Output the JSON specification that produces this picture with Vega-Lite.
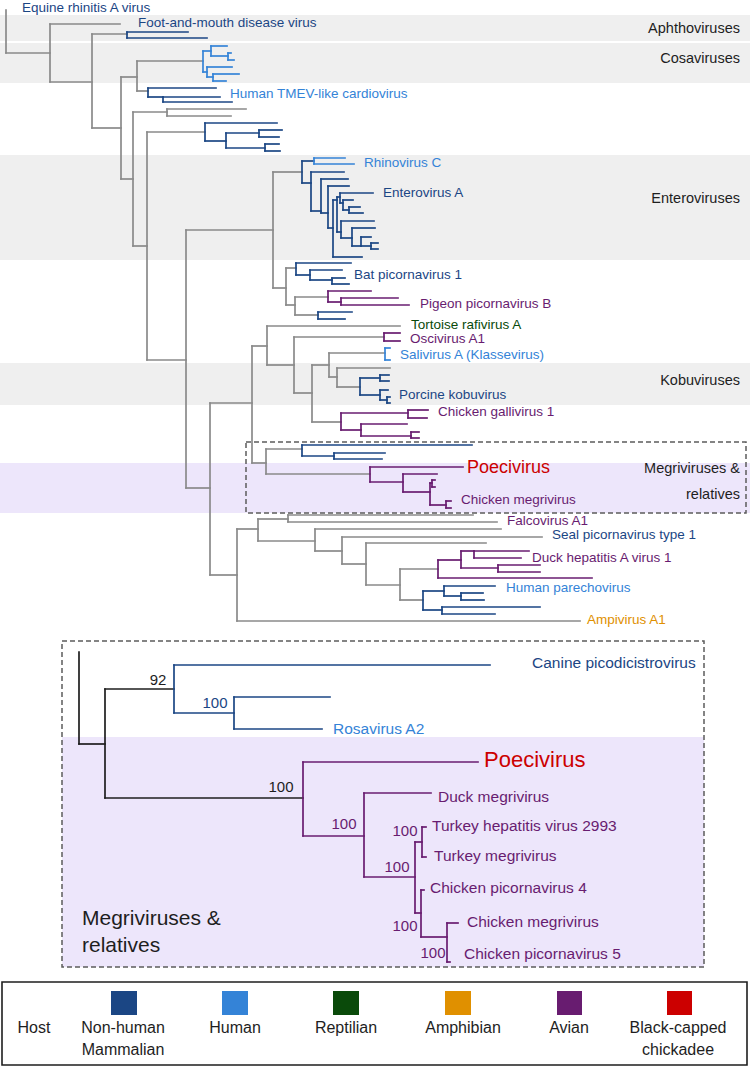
{
"$schema": "https://vega.github.io/schema/vega-lite/v6.json",
"width": 750, "height": 1067, "padding": 0,
"autosize": {"type": "none"},
"background": "white",
"config": {"view": {"stroke": null}},
"datasets": {
"bands": [
{"x":0,"x2":750,"y":15,"y2":41,"h":"X"},
{"x":0,"x2":750,"y":43,"y2":83,"h":"X"},
{"x":0,"x2":750,"y":155,"y2":260,"h":"X"},
{"x":0,"x2":750,"y":363,"y2":405,"h":"X"},
{"x":0,"x2":750,"y":463,"y2":513,"h":"L"},
{"x":62,"x2":704,"y":737,"y2":967,"h":"L"}
],
"boxes": [
{"x":246,"x2":746,"y":442,"y2":513,"h":"D"},
{"x":62,"x2":704,"y":641,"y2":967,"h":"D"}
],
"frame": [
{"x":2,"x2":747,"y":982,"y2":1065,"h":"K"}
],
"keys": [
{"x":111,"x2":137,"y":991,"y2":1015,"h":"M"},
{"x":222,"x2":248,"y":991,"y2":1015,"h":"H"},
{"x":333,"x2":359,"y":991,"y2":1015,"h":"R"},
{"x":445,"x2":471,"y":991,"y2":1015,"h":"A"},
{"x":557,"x2":582,"y":991,"y2":1015,"h":"B"},
{"x":667,"x2":692,"y":991,"y2":1015,"h":"C"}
],
"segs": [
{"x":6,"y":10,"x2":6,"y2":53,"h":"G"},
{"x":6,"y":53,"x2":50,"y2":53,"h":"G"},
{"x":50,"y":24,"x2":50,"y2":82,"h":"G"},
{"x":50,"y":24,"x2":120,"y2":24,"h":"G"},
{"x":50,"y":82,"x2":92,"y2":82,"h":"G"},
{"x":92,"y":34,"x2":92,"y2":128,"h":"G"},
{"x":92,"y":34,"x2":127,"y2":34,"h":"G"},
{"x":127,"y":32,"x2":127,"y2":38,"h":"M"},
{"x":127,"y":32,"x2":188,"y2":32,"h":"M"},
{"x":127,"y":38,"x2":207,"y2":38,"h":"M"},
{"x":92,"y":128,"x2":121,"y2":128,"h":"G"},
{"x":121,"y":77,"x2":121,"y2":179,"h":"G"},
{"x":121,"y":77,"x2":137,"y2":77,"h":"G"},
{"x":121,"y":179,"x2":133,"y2":179,"h":"G"},
{"x":137,"y":61,"x2":137,"y2":91,"h":"G"},
{"x":137,"y":61,"x2":203,"y2":61,"h":"G"},
{"x":203,"y":51,"x2":203,"y2":72,"h":"H"},
{"x":203,"y":51,"x2":211,"y2":51,"h":"H"},
{"x":211,"y":46,"x2":211,"y2":56,"h":"H"},
{"x":211,"y":46,"x2":227,"y2":46,"h":"H"},
{"x":211,"y":56,"x2":228,"y2":56,"h":"H"},
{"x":228,"y":53,"x2":228,"y2":60,"h":"H"},
{"x":228,"y":53,"x2":231,"y2":53,"h":"H"},
{"x":228,"y":60,"x2":234,"y2":60,"h":"H"},
{"x":203,"y":72,"x2":207,"y2":72,"h":"H"},
{"x":207,"y":67,"x2":207,"y2":77,"h":"H"},
{"x":207,"y":67,"x2":232,"y2":67,"h":"H"},
{"x":207,"y":77,"x2":213,"y2":77,"h":"H"},
{"x":213,"y":74,"x2":213,"y2":81,"h":"H"},
{"x":213,"y":74,"x2":239,"y2":74,"h":"H"},
{"x":213,"y":81,"x2":226,"y2":81,"h":"H"},
{"x":137,"y":91,"x2":148,"y2":91,"h":"G"},
{"x":148,"y":88,"x2":148,"y2":97,"h":"M"},
{"x":148,"y":88,"x2":216,"y2":88,"h":"M"},
{"x":148,"y":97,"x2":163,"y2":97,"h":"M"},
{"x":163,"y":97,"x2":163,"y2":102,"h":"M"},
{"x":163,"y":97,"x2":220,"y2":97,"h":"M"},
{"x":163,"y":102,"x2":232,"y2":102,"h":"M"},
{"x":133,"y":112,"x2":133,"y2":246,"h":"G"},
{"x":133,"y":112,"x2":167,"y2":112,"h":"G"},
{"x":167,"y":109,"x2":167,"y2":116,"h":"G"},
{"x":167,"y":109,"x2":246,"y2":109,"h":"G"},
{"x":167,"y":116,"x2":231,"y2":116,"h":"G"},
{"x":133,"y":246,"x2":147,"y2":246,"h":"G"},
{"x":147,"y":132,"x2":147,"y2":360,"h":"G"},
{"x":147,"y":132,"x2":205,"y2":132,"h":"G"},
{"x":205,"y":123,"x2":205,"y2":141,"h":"M"},
{"x":205,"y":123,"x2":277,"y2":123,"h":"M"},
{"x":205,"y":141,"x2":226,"y2":141,"h":"M"},
{"x":226,"y":133,"x2":226,"y2":148,"h":"M"},
{"x":226,"y":133,"x2":259,"y2":133,"h":"M"},
{"x":259,"y":130,"x2":259,"y2":137,"h":"M"},
{"x":259,"y":130,"x2":282,"y2":130,"h":"M"},
{"x":259,"y":137,"x2":279,"y2":137,"h":"M"},
{"x":226,"y":148,"x2":265,"y2":148,"h":"M"},
{"x":265,"y":144,"x2":265,"y2":151,"h":"M"},
{"x":265,"y":144,"x2":279,"y2":144,"h":"M"},
{"x":265,"y":151,"x2":280,"y2":151,"h":"M"},
{"x":147,"y":360,"x2":186,"y2":360,"h":"G"},
{"x":186,"y":230,"x2":186,"y2":488,"h":"G"},
{"x":186,"y":230,"x2":273,"y2":230,"h":"G"},
{"x":273,"y":172,"x2":273,"y2":288,"h":"G"},
{"x":273,"y":172,"x2":302,"y2":172,"h":"G"},
{"x":302,"y":161,"x2":302,"y2":183,"h":"M"},
{"x":302,"y":161,"x2":314,"y2":161,"h":"M"},
{"x":314,"y":158,"x2":314,"y2":164,"h":"H"},
{"x":314,"y":158,"x2":345,"y2":158,"h":"H"},
{"x":314,"y":164,"x2":354,"y2":164,"h":"H"},
{"x":302,"y":183,"x2":311,"y2":183,"h":"M"},
{"x":311,"y":172,"x2":311,"y2":211,"h":"M"},
{"x":311,"y":172,"x2":344,"y2":172,"h":"M"},
{"x":311,"y":211,"x2":321,"y2":211,"h":"M"},
{"x":321,"y":179,"x2":321,"y2":213,"h":"M"},
{"x":321,"y":179,"x2":348,"y2":179,"h":"M"},
{"x":321,"y":213,"x2":328,"y2":213,"h":"M"},
{"x":328,"y":186,"x2":328,"y2":228,"h":"M"},
{"x":328,"y":186,"x2":349,"y2":186,"h":"M"},
{"x":328,"y":228,"x2":333,"y2":228,"h":"M"},
{"x":333,"y":200,"x2":333,"y2":257,"h":"M"},
{"x":333,"y":257,"x2":362,"y2":257,"h":"M"},
{"x":333,"y":200,"x2":337,"y2":200,"h":"M"},
{"x":337,"y":197,"x2":337,"y2":232,"h":"M"},
{"x":337,"y":197,"x2":340,"y2":197,"h":"M"},
{"x":340,"y":193,"x2":340,"y2":203,"h":"M"},
{"x":340,"y":193,"x2":373,"y2":193,"h":"M"},
{"x":340,"y":203,"x2":343,"y2":203,"h":"M"},
{"x":343,"y":200,"x2":343,"y2":210,"h":"M"},
{"x":343,"y":200,"x2":353,"y2":200,"h":"M"},
{"x":343,"y":210,"x2":349,"y2":210,"h":"M"},
{"x":349,"y":207,"x2":349,"y2":213,"h":"M"},
{"x":349,"y":207,"x2":360,"y2":207,"h":"M"},
{"x":349,"y":213,"x2":363,"y2":213,"h":"M"},
{"x":337,"y":232,"x2":341,"y2":232,"h":"M"},
{"x":341,"y":221,"x2":341,"y2":238,"h":"M"},
{"x":341,"y":221,"x2":374,"y2":221,"h":"M"},
{"x":341,"y":238,"x2":352,"y2":238,"h":"M"},
{"x":352,"y":228,"x2":352,"y2":246,"h":"M"},
{"x":352,"y":228,"x2":375,"y2":228,"h":"M"},
{"x":352,"y":246,"x2":361,"y2":246,"h":"M"},
{"x":361,"y":237,"x2":361,"y2":246,"h":"M"},
{"x":361,"y":237,"x2":371,"y2":237,"h":"M"},
{"x":361,"y":246,"x2":371,"y2":246,"h":"M"},
{"x":371,"y":243,"x2":371,"y2":249,"h":"M"},
{"x":371,"y":243,"x2":378,"y2":243,"h":"M"},
{"x":371,"y":249,"x2":378,"y2":249,"h":"M"},
{"x":273,"y":288,"x2":286,"y2":288,"h":"G"},
{"x":286,"y":268,"x2":286,"y2":305,"h":"G"},
{"x":286,"y":268,"x2":296,"y2":268,"h":"G"},
{"x":296,"y":263,"x2":296,"y2":275,"h":"M"},
{"x":296,"y":263,"x2":351,"y2":263,"h":"M"},
{"x":296,"y":275,"x2":310,"y2":275,"h":"M"},
{"x":310,"y":270,"x2":310,"y2":280,"h":"M"},
{"x":310,"y":270,"x2":342,"y2":270,"h":"M"},
{"x":310,"y":280,"x2":332,"y2":280,"h":"M"},
{"x":332,"y":278,"x2":332,"y2":284,"h":"M"},
{"x":332,"y":278,"x2":345,"y2":278,"h":"M"},
{"x":332,"y":284,"x2":349,"y2":284,"h":"M"},
{"x":286,"y":305,"x2":295,"y2":305,"h":"G"},
{"x":295,"y":297,"x2":295,"y2":315,"h":"G"},
{"x":295,"y":297,"x2":328,"y2":297,"h":"G"},
{"x":328,"y":291,"x2":328,"y2":302,"h":"B"},
{"x":328,"y":291,"x2":371,"y2":291,"h":"B"},
{"x":328,"y":302,"x2":341,"y2":302,"h":"B"},
{"x":341,"y":298,"x2":341,"y2":305,"h":"B"},
{"x":341,"y":298,"x2":398,"y2":298,"h":"B"},
{"x":341,"y":305,"x2":409,"y2":305,"h":"B"},
{"x":295,"y":315,"x2":318,"y2":315,"h":"G"},
{"x":318,"y":312,"x2":318,"y2":319,"h":"M"},
{"x":318,"y":312,"x2":352,"y2":312,"h":"M"},
{"x":318,"y":319,"x2":345,"y2":319,"h":"M"},
{"x":186,"y":488,"x2":210,"y2":488,"h":"G"},
{"x":210,"y":403,"x2":210,"y2":575,"h":"G"},
{"x":210,"y":403,"x2":252,"y2":403,"h":"G"},
{"x":252,"y":346,"x2":252,"y2":463,"h":"G"},
{"x":252,"y":346,"x2":267,"y2":346,"h":"G"},
{"x":267,"y":326,"x2":267,"y2":365,"h":"G"},
{"x":267,"y":326,"x2":400,"y2":326,"h":"G"},
{"x":267,"y":365,"x2":294,"y2":365,"h":"G"},
{"x":294,"y":337,"x2":294,"y2":393,"h":"G"},
{"x":294,"y":337,"x2":384,"y2":337,"h":"G"},
{"x":384,"y":333,"x2":384,"y2":341,"h":"B"},
{"x":384,"y":333,"x2":400,"y2":333,"h":"B"},
{"x":384,"y":341,"x2":400,"y2":341,"h":"B"},
{"x":294,"y":393,"x2":312,"y2":393,"h":"G"},
{"x":312,"y":365,"x2":312,"y2":422,"h":"G"},
{"x":312,"y":365,"x2":329,"y2":365,"h":"G"},
{"x":329,"y":353,"x2":329,"y2":377,"h":"G"},
{"x":329,"y":353,"x2":385,"y2":353,"h":"G"},
{"x":385,"y":348,"x2":385,"y2":360,"h":"H"},
{"x":385,"y":348,"x2":390,"y2":348,"h":"H"},
{"x":385,"y":360,"x2":390,"y2":360,"h":"H"},
{"x":329,"y":377,"x2":337,"y2":377,"h":"G"},
{"x":337,"y":368,"x2":337,"y2":387,"h":"G"},
{"x":337,"y":368,"x2":390,"y2":368,"h":"G"},
{"x":337,"y":387,"x2":360,"y2":387,"h":"G"},
{"x":360,"y":378,"x2":360,"y2":395,"h":"M"},
{"x":360,"y":378,"x2":380,"y2":378,"h":"M"},
{"x":380,"y":375,"x2":380,"y2":381,"h":"M"},
{"x":380,"y":375,"x2":389,"y2":375,"h":"M"},
{"x":380,"y":381,"x2":389,"y2":381,"h":"M"},
{"x":360,"y":395,"x2":380,"y2":395,"h":"M"},
{"x":380,"y":390,"x2":380,"y2":400,"h":"M"},
{"x":380,"y":390,"x2":388,"y2":390,"h":"M"},
{"x":380,"y":400,"x2":387,"y2":400,"h":"M"},
{"x":387,"y":397,"x2":387,"y2":403,"h":"M"},
{"x":387,"y":397,"x2":390,"y2":397,"h":"M"},
{"x":387,"y":403,"x2":390,"y2":403,"h":"M"},
{"x":312,"y":422,"x2":341,"y2":422,"h":"G"},
{"x":341,"y":413,"x2":341,"y2":430,"h":"B"},
{"x":341,"y":413,"x2":408,"y2":413,"h":"B"},
{"x":408,"y":410,"x2":408,"y2":418,"h":"B"},
{"x":408,"y":410,"x2":428,"y2":410,"h":"B"},
{"x":408,"y":418,"x2":427,"y2":418,"h":"B"},
{"x":341,"y":430,"x2":361,"y2":430,"h":"B"},
{"x":361,"y":424,"x2":361,"y2":436,"h":"B"},
{"x":361,"y":424,"x2":407,"y2":424,"h":"B"},
{"x":361,"y":436,"x2":411,"y2":436,"h":"B"},
{"x":411,"y":432,"x2":411,"y2":438,"h":"B"},
{"x":411,"y":432,"x2":419,"y2":432,"h":"B"},
{"x":411,"y":438,"x2":419,"y2":438,"h":"B"},
{"x":252,"y":463,"x2":266,"y2":463,"h":"G"},
{"x":266,"y":449,"x2":266,"y2":474,"h":"G"},
{"x":266,"y":449,"x2":302,"y2":449,"h":"G"},
{"x":302,"y":445,"x2":302,"y2":456,"h":"M"},
{"x":302,"y":445,"x2":472,"y2":445,"h":"M"},
{"x":302,"y":456,"x2":334,"y2":456,"h":"M"},
{"x":334,"y":453,"x2":334,"y2":459,"h":"M"},
{"x":334,"y":453,"x2":385,"y2":453,"h":"M"},
{"x":334,"y":459,"x2":382,"y2":459,"h":"M"},
{"x":266,"y":474,"x2":370,"y2":474,"h":"G"},
{"x":370,"y":467,"x2":370,"y2":482,"h":"B"},
{"x":370,"y":467,"x2":463,"y2":467,"h":"B"},
{"x":370,"y":482,"x2":403,"y2":482,"h":"B"},
{"x":403,"y":474,"x2":403,"y2":492,"h":"B"},
{"x":403,"y":474,"x2":437,"y2":474,"h":"B"},
{"x":403,"y":492,"x2":430,"y2":492,"h":"B"},
{"x":430,"y":483,"x2":430,"y2":505,"h":"B"},
{"x":430,"y":483,"x2":432,"y2":483,"h":"B"},
{"x":432,"y":480,"x2":432,"y2":487,"h":"B"},
{"x":432,"y":480,"x2":435,"y2":480,"h":"B"},
{"x":432,"y":487,"x2":435,"y2":487,"h":"B"},
{"x":430,"y":505,"x2":446,"y2":505,"h":"B"},
{"x":446,"y":501,"x2":446,"y2":508,"h":"B"},
{"x":446,"y":501,"x2":451,"y2":501,"h":"B"},
{"x":446,"y":508,"x2":451,"y2":508,"h":"B"},
{"x":210,"y":575,"x2":237,"y2":575,"h":"G"},
{"x":237,"y":529,"x2":237,"y2":621,"h":"G"},
{"x":237,"y":529,"x2":258,"y2":529,"h":"G"},
{"x":237,"y":621,"x2":580,"y2":621,"h":"G"},
{"x":258,"y":519,"x2":258,"y2":541,"h":"G"},
{"x":258,"y":519,"x2":288,"y2":519,"h":"G"},
{"x":288,"y":515,"x2":288,"y2":522,"h":"G"},
{"x":288,"y":515,"x2":473,"y2":515,"h":"G"},
{"x":288,"y":522,"x2":497,"y2":522,"h":"G"},
{"x":258,"y":541,"x2":315,"y2":541,"h":"G"},
{"x":315,"y":529,"x2":315,"y2":551,"h":"G"},
{"x":315,"y":529,"x2":501,"y2":529,"h":"G"},
{"x":315,"y":551,"x2":342,"y2":551,"h":"G"},
{"x":342,"y":537,"x2":342,"y2":564,"h":"G"},
{"x":342,"y":537,"x2":542,"y2":537,"h":"G"},
{"x":342,"y":564,"x2":366,"y2":564,"h":"G"},
{"x":366,"y":543,"x2":366,"y2":585,"h":"G"},
{"x":366,"y":543,"x2":486,"y2":543,"h":"G"},
{"x":366,"y":585,"x2":400,"y2":585,"h":"G"},
{"x":400,"y":569,"x2":400,"y2":600,"h":"G"},
{"x":400,"y":569,"x2":438,"y2":569,"h":"G"},
{"x":438,"y":560,"x2":438,"y2":578,"h":"B"},
{"x":438,"y":560,"x2":461,"y2":560,"h":"B"},
{"x":461,"y":551,"x2":461,"y2":568,"h":"B"},
{"x":461,"y":551,"x2":474,"y2":551,"h":"B"},
{"x":474,"y":551,"x2":474,"y2":558,"h":"B"},
{"x":474,"y":551,"x2":529,"y2":551,"h":"B"},
{"x":474,"y":558,"x2":521,"y2":558,"h":"B"},
{"x":461,"y":568,"x2":498,"y2":568,"h":"B"},
{"x":498,"y":565,"x2":498,"y2":572,"h":"B"},
{"x":498,"y":565,"x2":540,"y2":565,"h":"B"},
{"x":498,"y":572,"x2":540,"y2":572,"h":"B"},
{"x":438,"y":578,"x2":592,"y2":578,"h":"B"},
{"x":400,"y":600,"x2":423,"y2":600,"h":"G"},
{"x":423,"y":591,"x2":423,"y2":610,"h":"M"},
{"x":423,"y":591,"x2":444,"y2":591,"h":"M"},
{"x":444,"y":586,"x2":444,"y2":596,"h":"M"},
{"x":444,"y":586,"x2":495,"y2":586,"h":"M"},
{"x":444,"y":596,"x2":461,"y2":596,"h":"M"},
{"x":461,"y":593,"x2":461,"y2":600,"h":"M"},
{"x":461,"y":593,"x2":483,"y2":593,"h":"M"},
{"x":461,"y":600,"x2":484,"y2":600,"h":"M"},
{"x":423,"y":610,"x2":442,"y2":610,"h":"M"},
{"x":442,"y":607,"x2":442,"y2":614,"h":"M"},
{"x":442,"y":607,"x2":540,"y2":607,"h":"M"},
{"x":442,"y":614,"x2":495,"y2":614,"h":"M"},
{"x":79,"y":652,"x2":79,"y2":744,"h":"K"},
{"x":79,"y":744,"x2":105,"y2":744,"h":"K"},
{"x":105,"y":689,"x2":105,"y2":798,"h":"K"},
{"x":105,"y":689,"x2":174,"y2":689,"h":"K"},
{"x":174,"y":665,"x2":174,"y2":713,"h":"M"},
{"x":174,"y":665,"x2":490,"y2":665,"h":"M"},
{"x":174,"y":713,"x2":234,"y2":713,"h":"M"},
{"x":234,"y":697,"x2":234,"y2":729,"h":"M"},
{"x":234,"y":697,"x2":330,"y2":697,"h":"M"},
{"x":234,"y":729,"x2":322,"y2":729,"h":"M"},
{"x":105,"y":798,"x2":303,"y2":798,"h":"K"},
{"x":303,"y":762,"x2":303,"y2":836,"h":"B"},
{"x":303,"y":762,"x2":478,"y2":762,"h":"B"},
{"x":303,"y":836,"x2":364,"y2":836,"h":"B"},
{"x":364,"y":793,"x2":364,"y2":877,"h":"B"},
{"x":364,"y":793,"x2":431,"y2":793,"h":"B"},
{"x":364,"y":877,"x2":415,"y2":877,"h":"B"},
{"x":415,"y":842,"x2":415,"y2":913,"h":"B"},
{"x":415,"y":842,"x2":422,"y2":842,"h":"B"},
{"x":422,"y":827,"x2":422,"y2":857,"h":"B"},
{"x":422,"y":827,"x2":426,"y2":827,"h":"B"},
{"x":422,"y":857,"x2":426,"y2":857,"h":"B"},
{"x":415,"y":913,"x2":421,"y2":913,"h":"B"},
{"x":421,"y":890,"x2":421,"y2":937,"h":"B"},
{"x":421,"y":890,"x2":424,"y2":890,"h":"B"},
{"x":421,"y":937,"x2":447,"y2":937,"h":"B"},
{"x":447,"y":923,"x2":447,"y2":962,"h":"B"},
{"x":447,"y":923,"x2":458,"y2":923,"h":"B"},
{"x":447,"y":962,"x2":450,"y2":962,"h":"B"}
],
"labels": [
{"x":22,"y":8,"t":"Equine rhinitis A virus","h":"M","k":"tip"},
{"x":138,"y":23,"t":"Foot-and-mouth disease virus","h":"M","k":"tip"},
{"x":230,"y":94,"t":"Human TMEV-like cardiovirus","h":"H","k":"tip"},
{"x":364,"y":163,"t":"Rhinovirus C","h":"H","k":"tip"},
{"x":383,"y":193,"t":"Enterovirus A","h":"M","k":"tip"},
{"x":354,"y":275,"t":"Bat picornavirus 1","h":"M","k":"tip"},
{"x":420,"y":304,"t":"Pigeon picornavirus B","h":"B","k":"tip"},
{"x":411,"y":325,"t":"Tortoise rafivirus A","h":"R","k":"tip"},
{"x":410,"y":339,"t":"Oscivirus A1","h":"B","k":"tip"},
{"x":400,"y":355,"t":"Salivirus A (Klassevirus)","h":"H","k":"tip"},
{"x":399,"y":395,"t":"Porcine kobuvirus","h":"M","k":"tip"},
{"x":438,"y":412,"t":"Chicken gallivirus 1","h":"B","k":"tip"},
{"x":461,"y":500,"t":"Chicken megrivirus","h":"B","k":"tip"},
{"x":507,"y":521,"t":"Falcovirus A1","h":"B","k":"tip"},
{"x":552,"y":535,"t":"Seal picornavirus type 1","h":"M","k":"tip"},
{"x":532,"y":558,"t":"Duck hepatitis A virus 1","h":"B","k":"tip"},
{"x":506,"y":588,"t":"Human parechovirus","h":"H","k":"tip"},
{"x":587,"y":620,"t":"Ampivirus A1","h":"A","k":"tip"},
{"x":467,"y":468,"t":"Poecivirus","h":"C","k":"poe1"},
{"x":740,"y":29,"t":"Aphthoviruses","h":"K","k":"clade"},
{"x":740,"y":59,"t":"Cosaviruses","h":"K","k":"clade"},
{"x":740,"y":199,"t":"Enteroviruses","h":"K","k":"clade"},
{"x":740,"y":381,"t":"Kobuviruses","h":"K","k":"clade"},
{"x":740,"y":469,"t":"Megriviruses &","h":"K","k":"clade"},
{"x":740,"y":495,"t":"relatives","h":"K","k":"clade"},
{"x":532,"y":663,"t":"Canine picodicistrovirus","h":"M","k":"tip2"},
{"x":333,"y":729,"t":"Rosavirus A2","h":"H","k":"tip2"},
{"x":438,"y":797,"t":"Duck megrivirus","h":"B","k":"tip2"},
{"x":432,"y":826,"t":"Turkey hepatitis virus 2993","h":"B","k":"tip2"},
{"x":434,"y":856,"t":"Turkey megrivirus","h":"B","k":"tip2"},
{"x":430,"y":888,"t":"Chicken picornavirus 4","h":"B","k":"tip2"},
{"x":467,"y":922,"t":"Chicken megrivirus","h":"B","k":"tip2"},
{"x":464,"y":954,"t":"Chicken picornavirus 5","h":"B","k":"tip2"},
{"x":484,"y":760,"t":"Poecivirus","h":"C","k":"poe2"},
{"x":158,"y":680,"t":"92","h":"K","k":"boot"},
{"x":215,"y":703,"t":"100","h":"M","k":"boot"},
{"x":281,"y":787,"t":"100","h":"K","k":"boot"},
{"x":344,"y":824,"t":"100","h":"B","k":"boot"},
{"x":405,"y":831,"t":"100","h":"B","k":"boot"},
{"x":397,"y":867,"t":"100","h":"B","k":"boot"},
{"x":405,"y":926,"t":"100","h":"B","k":"boot"},
{"x":433,"y":953,"t":"100","h":"B","k":"boot"},
{"x":82,"y":919,"t":"Megriviruses &","h":"K","k":"note"},
{"x":82,"y":946,"t":"relatives","h":"K","k":"note"},
{"x":34,"y":1020,"t":"Host","h":"K","k":"key"},
{"x":123,"y":1020,"t":"Non-human\nMammalian","h":"K","k":"key"},
{"x":235,"y":1020,"t":"Human","h":"K","k":"key"},
{"x":346,"y":1020,"t":"Reptilian","h":"K","k":"key"},
{"x":463,"y":1020,"t":"Amphibian","h":"K","k":"key"},
{"x":569,"y":1020,"t":"Avian","h":"K","k":"key"},
{"x":678,"y":1020,"t":"Black-capped\nchickadee","h":"K","k":"key"}
]
},
"encoding": {
"x": {"field": "x", "type": "quantitative", "scale": {"domain": [0, 750], "nice": false, "zero": false}, "axis": null},
"y": {"field": "y", "type": "quantitative", "scale": {"domain": [0, 1067], "nice": false, "zero": false, "reverse": true}, "axis": null},
"color": {"field": "h", "type": "nominal", "legend": null,
"scale": {"domain": ["M","H","R","A","B","C","G","K","X","L","D"],
"range": ["#1b4684","#3483d7","#0a4a0a","#e09000","#681c70","#cc0000","#8a8a8a","#1e1e1e","#efefef","#ede6fb","#5c5c5c"]}}
},
"layer": [
{"data": {"name": "bands"}, "mark": {"type": "rect"},
"encoding": {"x2": {"field": "x2"}, "y2": {"field": "y2"}}},
{"data": {"name": "boxes"}, "mark": {"type": "rect", "filled": false, "strokeWidth": 1.5, "strokeDash": [5, 3]},
"encoding": {"x2": {"field": "x2"}, "y2": {"field": "y2"}}},
{"data": {"name": "frame"}, "mark": {"type": "rect", "filled": false, "strokeWidth": 1.6},
"encoding": {"x2": {"field": "x2"}, "y2": {"field": "y2"}}},
{"data": {"name": "segs"}, "mark": {"type": "rule", "strokeWidth": 1.7, "strokeCap": "square"},
"encoding": {"x2": {"field": "x2"}, "y2": {"field": "y2"}}},
{"data": {"name": "keys"}, "mark": {"type": "rect"},
"encoding": {"x2": {"field": "x2"}, "y2": {"field": "y2"}}},
{"data": {"name": "labels"}, "transform": [{"filter": "datum.k === 'tip'"}],
"mark": {"type": "text", "align": "left", "baseline": "middle", "font": "Liberation Sans", "fontSize": 13.5},
"encoding": {"text": {"field": "t"}}},
{"data": {"name": "labels"}, "transform": [{"filter": "datum.k === 'clade'"}],
"mark": {"type": "text", "align": "right", "baseline": "middle", "font": "Liberation Sans", "fontSize": 14.5},
"encoding": {"text": {"field": "t"}}},
{"data": {"name": "labels"}, "transform": [{"filter": "datum.k === 'tip2'"}],
"mark": {"type": "text", "align": "left", "baseline": "middle", "font": "Liberation Sans", "fontSize": 15.5},
"encoding": {"text": {"field": "t"}}},
{"data": {"name": "labels"}, "transform": [{"filter": "datum.k === 'poe1'"}],
"mark": {"type": "text", "align": "left", "baseline": "middle", "font": "Liberation Sans", "fontSize": 18},
"encoding": {"text": {"field": "t"}}},
{"data": {"name": "labels"}, "transform": [{"filter": "datum.k === 'poe2'"}],
"mark": {"type": "text", "align": "left", "baseline": "middle", "font": "Liberation Sans", "fontSize": 22},
"encoding": {"text": {"field": "t"}}},
{"data": {"name": "labels"}, "transform": [{"filter": "datum.k === 'boot'"}],
"mark": {"type": "text", "align": "center", "baseline": "middle", "font": "Liberation Sans", "fontSize": 15},
"encoding": {"text": {"field": "t"}}},
{"data": {"name": "labels"}, "transform": [{"filter": "datum.k === 'note'"}],
"mark": {"type": "text", "align": "left", "baseline": "middle", "font": "Liberation Sans", "fontSize": 21},
"encoding": {"text": {"field": "t"}}},
{"data": {"name": "labels"}, "transform": [{"filter": "datum.k === 'key'"}],
"mark": {"type": "text", "align": "center", "baseline": "top", "font": "Liberation Sans", "fontSize": 16, "lineBreak": "\n", "lineHeight": 22},
"encoding": {"text": {"field": "t"}}}
]
}
